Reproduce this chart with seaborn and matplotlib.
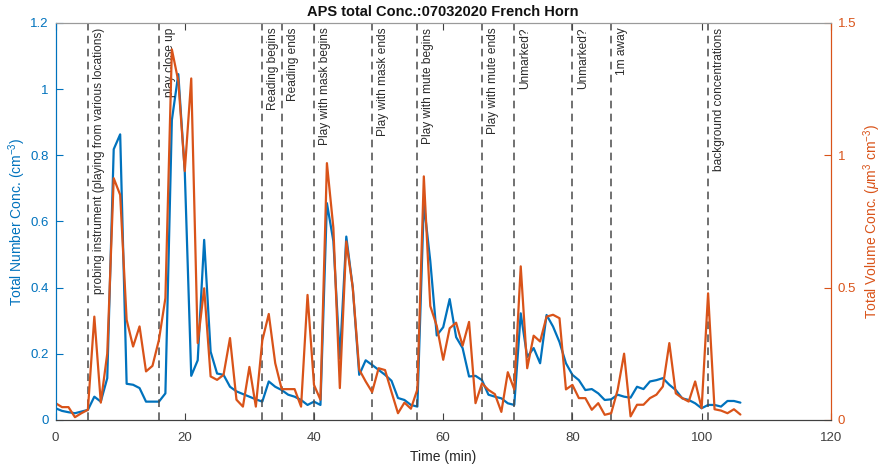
import numpy as np
import pandas as pd
import matplotlib
matplotlib.use("Agg")
import matplotlib.pyplot as plt
import matplotlib.transforms as mtransforms
import seaborn as sns

# ---------------- data ----------------
minutes = list(range(0, 107))

number_conc = [
    0.035, 0.027, 0.023, 0.020, 0.025, 0.030, 0.070, 0.055, 0.126, 0.818,
    0.863, 0.109, 0.106, 0.096, 0.055, 0.055, 0.055, 0.080, 0.906, 1.045,
    0.750, 0.133, 0.180, 0.544, 0.206, 0.140, 0.136, 0.100, 0.086, 0.078,
    0.070, 0.062, 0.055, 0.116, 0.100, 0.090, 0.076, 0.070, 0.060, 0.045,
    0.055, 0.045, 0.655, 0.540, 0.185, 0.554, 0.400, 0.136, 0.180, 0.166,
    0.151, 0.136, 0.118, 0.066, 0.060, 0.045, 0.040, 0.655, 0.480, 0.255,
    0.280, 0.365, 0.250, 0.217, 0.131, 0.133, 0.120, 0.076, 0.070, 0.065,
    0.050, 0.045, 0.322, 0.190, 0.217, 0.171, 0.317, 0.282, 0.235, 0.171,
    0.136, 0.120, 0.090, 0.093, 0.080, 0.060, 0.062, 0.076, 0.070, 0.067,
    0.100, 0.093, 0.116, 0.120, 0.126, 0.106, 0.090, 0.065, 0.060, 0.050,
    0.035, 0.045, 0.045, 0.040, 0.057, 0.057, 0.052,
]

volume_conc = [
    0.063, 0.048, 0.048, 0.010, 0.025, 0.038, 0.390, 0.065, 0.250, 0.913,
    0.850, 0.378, 0.277, 0.353, 0.183, 0.204, 0.302, 0.460, 1.400, 1.280,
    0.940, 1.290, 0.290, 0.497, 0.164, 0.151, 0.170, 0.309, 0.076, 0.050,
    0.200, 0.050, 0.300, 0.400, 0.214, 0.116, 0.116, 0.116, 0.050, 0.472,
    0.132, 0.076, 0.970, 0.725, 0.120, 0.674, 0.500, 0.190, 0.145, 0.105,
    0.195, 0.188, 0.105, 0.025, 0.065, 0.042, 0.115, 0.920, 0.430, 0.355,
    0.227, 0.346, 0.367, 0.280, 0.370, 0.063, 0.138, 0.113, 0.097, 0.030,
    0.180, 0.115, 0.580, 0.195, 0.318, 0.296, 0.390, 0.397, 0.384, 0.115,
    0.132, 0.082, 0.082, 0.038, 0.063, 0.019, 0.025, 0.113, 0.250, 0.013,
    0.057, 0.057, 0.082, 0.095, 0.126, 0.290, 0.100, 0.082, 0.069, 0.145,
    0.044, 0.478, 0.040, 0.035, 0.025, 0.040, 0.020,
]

event_times = [5, 16, 32, 35, 40, 49, 56, 66, 71, 80, 86, 101]
event_labels = [
    "probing instrument (playing from various locations)",
    "play close up",
    "Reading begins",
    "Reading ends",
    "Play with mask begins",
    "Play with mask ends",
    "Play with mute begins",
    "Play with mute ends",
    "Unmarked?",
    "Unmarked?",
    "1m away",
    "background concentrations",
]

x_ticks = [0, 20, 40, 60, 80, 100, 120]
left_ticks = [0, 0.2, 0.4, 0.6, 0.8, 1.0, 1.2]
left_ticklabels = ["0", "0.2", "0.4", "0.6", "0.8", "1", "1.2"]
right_ticks = [0, 0.5, 1.0, 1.5]
right_ticklabels = ["0", "0.5", "1", "1.5"]

# ---------------- style ----------------
sns.set_theme(style="white")
plt.rcParams["font.family"] = ["Liberation Sans", "DejaVu Sans"]
plt.rcParams["mathtext.fontset"] = "custom"
plt.rcParams["mathtext.rm"] = "Liberation Sans"
plt.rcParams["mathtext.it"] = "Liberation Sans:italic"

BLUE = "#0072BD"
ORANGE = "#D95319"
AXC = "#404040"

df = pd.DataFrame({"time": minutes, "number": number_conc, "volume": volume_conc})

fig = plt.figure(figsize=(8.82, 4.67), dpi=100)
ax = fig.add_axes([0.063, 0.101, 0.879, 0.850])
ax2 = ax.twinx()

sns.lineplot(data=df, x="time", y="number", ax=ax, color=BLUE, linewidth=1.6)
sns.lineplot(data=df, x="time", y="volume", ax=ax2, color=ORANGE, linewidth=1.6)

# event lines
for t in event_times:
    ax.axvline(t, color="#4a4a4a", linestyle=(0, (5, 3.5)), linewidth=1.1, zorder=3)

blend = mtransforms.blended_transform_factory(ax.transData, ax.transAxes)
for t, lab in zip(event_times, event_labels):
    trans = mtransforms.offset_copy(blend, fig=fig, x=5, y=0, units="dots")
    ax.text(t, 0.988, lab, transform=trans, rotation=90, ha="left", va="top",
            fontsize=8.6, color="#2a2a2a", zorder=4)

ax.set_xlim(0, 120)
ax.set_ylim(0, 1.2)
ax2.set_ylim(0, 1.5)
ax.set_xticks(x_ticks)
ax.set_xticklabels([str(v) for v in x_ticks])
ax.set_yticks(left_ticks)
ax.set_yticklabels(left_ticklabels)
ax2.set_yticks(right_ticks)
ax2.set_yticklabels(right_ticklabels)

ax.set_xlabel("Time (min)", fontsize=10, color="#262626", labelpad=4)
ax.set_ylabel(r"Total Number Conc. (cm$^{-3}$)", fontsize=10, color=BLUE)
ax.yaxis.set_label_coords(-0.035, 0.5)
ax2.set_ylabel(r"Total Volume Conc. ($\mu$m$^{3}$ cm$^{-3}$)", fontsize=10, color=ORANGE, labelpad=4)
ax.set_title("APS total Conc.:07032020 French Horn", fontsize=10.5, fontweight="bold",
             color="#111111", pad=5)

ax.tick_params(axis="x", direction="in", length=5, width=0.8, colors=AXC, labelsize=9.5,
               top=True, bottom=True, pad=9)
ax.tick_params(axis="y", direction="in", length=5, width=0.8, colors=BLUE, labelsize=9.5,
               left=True, right=False, pad=5)
ax2.tick_params(axis="y", direction="in", length=5, width=0.8, colors=ORANGE, labelsize=9.5,
                right=True, left=False, pad=5)

for a in (ax, ax2):
    a.spines["top"].set_color("#9a9a9a")
    a.spines["bottom"].set_color(AXC)
    a.spines["left"].set_color(BLUE)
    a.spines["right"].set_color(ORANGE)
    for s in a.spines.values():
        s.set_linewidth(0.8)
        s.set_visible(True)
ax.grid(False)
ax2.grid(False)

fig.savefig("out.png", dpi=100)
